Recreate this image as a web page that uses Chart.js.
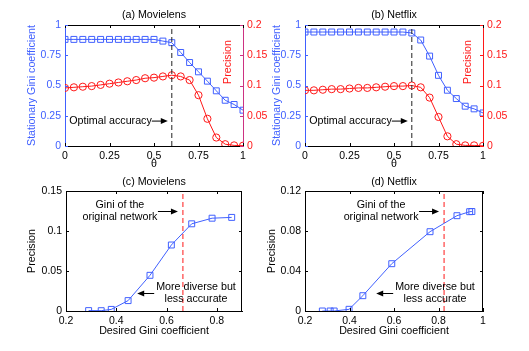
<!DOCTYPE html>
<html>
<head>
<meta charset="utf-8">
<script src="https://cdn.jsdelivr.net/npm/chart.js@4.4.1/dist/chart.umd.min.js"></script>
<style>
  body { margin: 0; background: #fff; width: 529px; height: 351px; position: relative; overflow: hidden; }
  canvas { position: absolute; }
</style>
</head>
<body>
<canvas id="pa" width="270" height="175" style="left:0;top:0"></canvas>
<canvas id="pb" width="267" height="175" style="left:262px;top:0"></canvas>
<canvas id="pc" width="270" height="186" style="left:0;top:165px"></canvas>
<canvas id="pd" width="267" height="186" style="left:262px;top:165px"></canvas>
<script>
// ---- data ----
const theta = [0, 0.05, 0.1, 0.15, 0.2, 0.25, 0.3, 0.35, 0.4, 0.45, 0.5,
               0.55, 0.6, 0.65, 0.7, 0.75, 0.8, 0.85, 0.9, 0.95, 1];
const giniMovielens = [0.881, 0.881, 0.881, 0.881, 0.881, 0.881, 0.881, 0.881, 0.881, 0.881, 0.881,
                       0.867, 0.854, 0.773, 0.69, 0.613, 0.536, 0.456, 0.378, 0.343, 0.296];
const precMovielens = [0.096, 0.097, 0.098, 0.099, 0.101, 0.103, 0.105, 0.107, 0.109, 0.112, 0.113,
                       0.115, 0.117, 0.115, 0.109, 0.084, 0.045, 0.014, 0.003, 0.001, 0.0005];
const giniNetflix = [0.942, 0.942, 0.942, 0.942, 0.942, 0.942, 0.942, 0.942, 0.942, 0.942, 0.942,
                     0.942, 0.934, 0.876, 0.743, 0.584, 0.461, 0.392, 0.329, 0.307, 0.273];
const precNetflix = [0.092, 0.092, 0.093, 0.094, 0.094, 0.095, 0.096, 0.096, 0.097, 0.098, 0.099,
                     0.099, 0.100, 0.097, 0.080, 0.048, 0.016, 0.003, 0.001, 0.001, 0.0003];

const desiredGiniML = [0.29, 0.34, 0.38, 0.447, 0.534, 0.619, 0.70, 0.781, 0.859];
const precisionML = [0.0005, 0.0004, 0.002, 0.013, 0.0446, 0.0825, 0.109, 0.116, 0.117];
const desiredGiniNF = [0.278, 0.313, 0.331, 0.398, 0.46, 0.59, 0.762, 0.883, 0.94, 0.95];
const precisionNF = [0, 0, 0, 0.0017, 0.0153, 0.0473, 0.0793, 0.0953, 0.0993, 0.0995];

const optimalTheta = 0.6;
const originalGiniML = 0.665;
const originalGiniNF = 0.825;

// tick labels
const thetaTicks = [0, 0.25, 0.5, 0.75, 1];
const giniTicks = [0, 0.25, 0.5, 0.75, 1];
const precTicks = [0, 0.05, 0.1, 0.15, 0.2];
const desiredTicksML = [0.2, 0.4, 0.6, 0.8];
const desiredTicksNF = [0.2, 0.4, 0.6, 0.8, 1];
const precTicksML = [0, 0.05, 0.1, 0.15];
const precTicksNF = [0, 0.04, 0.08, 0.12];

// ---- look ----
const BLUE = 'rgb(64,96,255)';
const RED = 'rgb(255,24,24)';
const FONT = '"Liberation Sans", Arial, sans-serif';
Chart.defaults.font.family = FONT;
Chart.defaults.font.size = 10.5;
Chart.defaults.color = '#000';

const pts = (xs, ys) => xs.map((x, i) => ({ x: x, y: ys[i] }));
const setTicks = vals => scale => { scale.ticks = vals.map(v => ({ value: v })); };
const label = v => String(v);

function axis(pos, min, max, vals, color, size, borderColor) {
  const a = {
    type: 'linear', position: pos, min: min, max: max,
    afterBuildTicks: setTicks(vals),
    grid: { display: false, drawTicks: false },
    border: { display: true, color: borderColor || color, width: 1 },
    ticks: { color: color, padding: 4, maxRotation: 0, autoSkip: false, callback: label }
  };
  if (pos === 'bottom') a.afterFit = s => { s.height = size; };
  else a.afterFit = s => { s.width = size; };
  return a;
}

function txt(ctx, s, x, y, color, align, rot) {
  ctx.save();
  ctx.font = '10.7px ' + FONT;
  ctx.fillStyle = color || '#000';
  ctx.textAlign = align || 'center';
  ctx.textBaseline = 'middle';
  ctx.translate(x, y);
  if (rot) ctx.rotate(-Math.PI / 2);
  ctx.fillText(s, 0, 0);
  ctx.restore();
}

function arrow(ctx, x1, y, x2) {
  const d = x2 > x1 ? 1 : -1;
  ctx.save();
  ctx.strokeStyle = '#000';
  ctx.fillStyle = '#000';
  ctx.lineWidth = 1;
  ctx.beginPath();
  ctx.moveTo(x1, y + 0.5);
  ctx.lineTo(x2 - d * 5, y + 0.5);
  ctx.stroke();
  ctx.beginPath();
  ctx.moveTo(x2, y + 0.5);
  ctx.lineTo(x2 - d * 7, y - 2.5);
  ctx.lineTo(x2 - d * 7, y + 3.5);
  ctx.closePath();
  ctx.fill();
  ctx.restore();
}

// top/right box lines and inward tick marks
function frame(chart, ctx, rightColor, mirrorY) {
  const ca = chart.chartArea, L = 3;
  ctx.save();
  ctx.lineWidth = 1;
  ctx.strokeStyle = '#000';
  ctx.beginPath();
  ctx.moveTo(ca.left, ca.top + 0.5);
  ctx.lineTo(ca.right, ca.top + 0.5);
  ctx.stroke();
  if (rightColor) {
    ctx.strokeStyle = rightColor;
    ctx.beginPath();
    ctx.moveTo(ca.right - 0.5, ca.top);
    ctx.lineTo(ca.right - 0.5, ca.bottom);
    ctx.stroke();
  }
  const xs = chart.scales.x;
  ctx.strokeStyle = '#000';
  ctx.beginPath();
  xs.ticks.forEach(t => {
    const p = Math.round(xs.getPixelForValue(t.value)) + 0.5;
    ctx.moveTo(p, ca.bottom); ctx.lineTo(p, ca.bottom - L);
    ctx.moveTo(p, ca.top); ctx.lineTo(p, ca.top + L);
  });
  ctx.stroke();
  const ys = chart.scales.y;
  ctx.strokeStyle = ys.options.border.color;
  ctx.beginPath();
  ys.ticks.forEach(t => {
    const p = Math.round(ys.getPixelForValue(t.value)) + 0.5;
    ctx.moveTo(ca.left, p); ctx.lineTo(ca.left + L, p);
    if (mirrorY) { ctx.moveTo(ca.right, p); ctx.lineTo(ca.right - L, p); }
  });
  ctx.stroke();
  const y2 = chart.scales.y2;
  if (y2) {
    ctx.strokeStyle = y2.options.border.color;
    ctx.beginPath();
    y2.ticks.forEach(t => {
      const p = Math.round(y2.getPixelForValue(t.value)) + 0.5;
      ctx.moveTo(ca.right, p); ctx.lineTo(ca.right - L, p);
    });
    ctx.stroke();
  }
  ctx.restore();
}

function decor(draw) {
  return { id: 'decor', afterDraw(chart) { draw(chart, chart.ctx, chart.chartArea, chart.scales); } };
}

function vline(x, y0, y1, color, axisId) {
  return {
    data: [{ x: x, y: y0 }, { x: x, y: y1 }], yAxisID: axisId || 'y',
    borderColor: color, borderWidth: 1, borderDash: [5, 3], pointRadius: 0, showLine: true
  };
}

function series(xs, ys, color, style, axisId) {
  return {
    data: pts(xs, ys), yAxisID: axisId || 'y', showLine: true,
    borderColor: color, borderWidth: 1, backgroundColor: 'rgba(0,0,0,0)',
    pointStyle: style, pointRadius: style === 'rect' ? 4.2 : 3.6,
    pointBorderColor: color, pointBorderWidth: 1, pointBackgroundColor: 'rgba(0,0,0,0)'
  };
}

function make(id, datasets, scales, padding, plugin) {
  new Chart(document.getElementById(id), {
    type: 'scatter',
    data: { datasets: datasets },
    options: {
      responsive: false, animation: false,
      layout: { padding: padding },
      plugins: { legend: { display: false }, tooltip: { enabled: false } },
      scales: scales
    },
    plugins: [plugin]
  });
}

// ---- top panels: Gini and precision vs theta ----
function topPanel(id, title, gini, prec, leftW, rightW, giniLabelDx, rightBorder) {
  make(id,
    [vline(optimalTheta, 0, 1, '#222'),
     series(theta, gini, BLUE, 'rect'),
     series(theta, prec, RED, 'circle', 'y2')],
    {
      x: axis('bottom', 0, 1, thetaTicks, '#000', 29),
      y: axis('left', 0, 1, giniTicks, BLUE, leftW),
      y2: axis('right', 0, 0.2, precTicks, RED, rightW, rightBorder)
    },
    { top: 25, left: 0, right: 0, bottom: 0 },
    decor((chart, ctx, ca, s) => {
      frame(chart, ctx, null, false);
      const mid = (ca.left + ca.right) / 2;
      txt(ctx, title, mid, ca.top - 10);
      txt(ctx, 'θ', mid, ca.bottom + 18);
      txt(ctx, 'Stationary Gini coefficient', ca.left - giniLabelDx, (ca.top + ca.bottom) / 2, BLUE, 'center', true);
      txt(ctx, 'Precision', ca.right - 15, ca.top + 37, RED, 'center', true);
      const lx = s.x.getPixelForValue(optimalTheta);
      const ty = s.y.getPixelForValue(0.21);
      txt(ctx, 'Optimal accuracy', lx - 20, ty, '#000', 'right');
      arrow(ctx, lx - 20, ty, lx - 4);
    })
  );
}

topPanel('pa', '(a) Movielens', giniMovielens, precMovielens, 65, 27, 33, 'rgb(205,50,130)');
topPanel('pb', '(b) Netflix', giniNetflix, precNetflix, 43, 46, 28, RED);

// ---- bottom panels: precision vs desired Gini ----
function bottomPanel(id, title, xs, ys, xTicks, xMax, yTicks, yMax, orig, leftW, rightPad, precLabelDx) {
  make(id,
    [vline(orig, 0, yMax, RED),
     series(xs, ys, BLUE, 'rect')],
    {
      x: axis('bottom', 0.2, xMax, xTicks, '#000', 40),
      y: axis('left', 0, yMax, yTicks, '#000', leftW)
    },
    { top: 26, left: 0, right: rightPad, bottom: 0 },
    decor((chart, ctx, ca, s) => {
      frame(chart, ctx, '#000', true);
      const mid = (ca.left + ca.right) / 2;
      txt(ctx, title, mid, ca.top - 9);
      txt(ctx, 'Desired Gini coefficient', mid, ca.bottom + 20);
      txt(ctx, 'Precision', ca.left - precLabelDx, (ca.top + ca.bottom) / 2, '#000', 'center', true);
      const lx = s.x.getPixelForValue(orig);
      txt(ctx, 'Gini of the', lx - 63, ca.top + 14);
      txt(ctx, 'original network', lx - 63, ca.top + 26);
      arrow(ctx, lx - 25, ca.top + 20, lx - 5);
      const cx = ca.left + 130;
      txt(ctx, 'More diverse but', cx, ca.bottom - 24);
      txt(ctx, 'less accurate', cx, ca.bottom - 12);
      ctx.font = '10.7px ' + FONT;
      const left = cx - ctx.measureText('More diverse but').width / 2;
      arrow(ctx, left - 2, ca.bottom - 18, left - 19);
    })
  );
}

bottomPanel('pc', '(c) Movielens', desiredGiniML, precisionML, desiredTicksML, 0.9,
            precTicksML, 0.15, originalGiniML, 66, 28, 34);
bottomPanel('pd', '(d) Netflix', desiredGiniNF, precisionNF, desiredTicksNF, 1,
            precTicksNF, 0.12, originalGiniNF, 43, 46, 33);
</script>
</body>
</html>
